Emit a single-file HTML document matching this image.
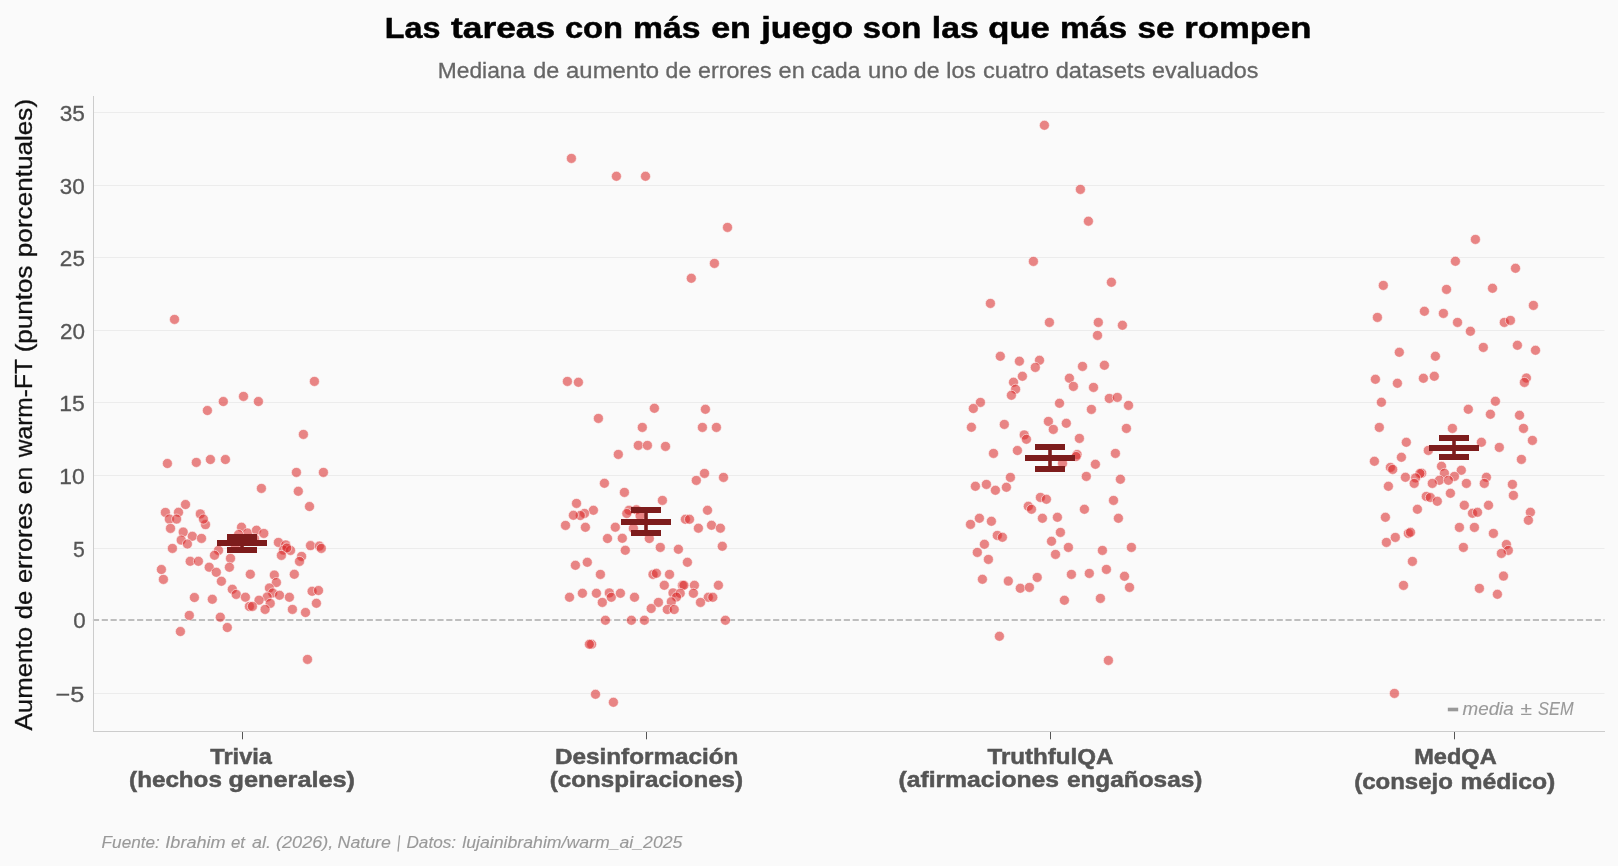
<!DOCTYPE html>
<html lang="es"><head><meta charset="utf-8"><title>Las tareas con más en juego son las que más se rompen</title>
<style>html,body{margin:0;padding:0;background:#fafafa;}body{width:1618px;height:866px;overflow:hidden;font-family:"Liberation Sans",sans-serif;}svg{display:block;}svg text{font-family:"Liberation Sans",sans-serif;}.d{fill:#da2828;fill-opacity:.56;stroke:#fff;stroke-opacity:.7;stroke-width:.8;}.g{stroke:#ececec;stroke-width:1;}.eb{stroke:#7d1c1c;fill:none;}</style></head><body>
<svg width="1618" height="866" viewBox="0 0 1618 866">
<rect width="1618" height="866" fill="#fafafa"/>
<line class="g" x1="94" x2="1604.5" y1="112.5" y2="112.5"/>
<line class="g" x1="94" x2="1604.5" y1="185.5" y2="185.5"/>
<line class="g" x1="94" x2="1604.5" y1="257.5" y2="257.5"/>
<line class="g" x1="94" x2="1604.5" y1="330.5" y2="330.5"/>
<line class="g" x1="94" x2="1604.5" y1="402.5" y2="402.5"/>
<line class="g" x1="94" x2="1604.5" y1="475.5" y2="475.5"/>
<line class="g" x1="94" x2="1604.5" y1="548.5" y2="548.5"/>
<line class="g" x1="94" x2="1604.5" y1="693.5" y2="693.5"/>
<line x1="92.9" x2="1604.5" y1="620" y2="620" stroke="#aaa" stroke-width="1.67" stroke-dasharray="6.167 2.667"/>
<g>
<circle class="d" cx="174.5" cy="319.4" r="5.0"/><circle class="d" cx="314.4" cy="381.4" r="5.0"/><circle class="d" cx="243.5" cy="396.4" r="5.0"/><circle class="d" cx="223.3" cy="401.5" r="5.0"/><circle class="d" cx="258.4" cy="401.5" r="5.0"/><circle class="d" cx="207.4" cy="410.5" r="5.0"/><circle class="d" cx="303.4" cy="434.4" r="5.0"/><circle class="d" cx="167.4" cy="463.5" r="5.0"/><circle class="d" cx="196.3" cy="462.4" r="5.0"/><circle class="d" cx="210.4" cy="459.5" r="5.0"/><circle class="d" cx="225.4" cy="459.5" r="5.0"/><circle class="d" cx="296.4" cy="472.4" r="5.0"/><circle class="d" cx="323.4" cy="472.4" r="5.0"/><circle class="d" cx="261.4" cy="488.4" r="5.0"/><circle class="d" cx="298.3" cy="491.3" r="5.0"/><circle class="d" cx="309.5" cy="506.5" r="5.0"/><circle class="d" cx="185.5" cy="504.5" r="5.0"/><circle class="d" cx="165.4" cy="512.4" r="5.0"/><circle class="d" cx="178.5" cy="512.3" r="5.0"/><circle class="d" cx="169.3" cy="519.1" r="5.0"/><circle class="d" cx="176.6" cy="519.1" r="5.0"/><circle class="d" cx="200.3" cy="513.9" r="5.0"/><circle class="d" cx="205.5" cy="524.6" r="5.0"/><circle class="d" cx="203.4" cy="519.1" r="5.0"/><circle class="d" cx="170.5" cy="528.4" r="5.0"/><circle class="d" cx="183.2" cy="532.1" r="5.0"/><circle class="d" cx="192.3" cy="536.3" r="5.0"/><circle class="d" cx="201.5" cy="538.4" r="5.0"/><circle class="d" cx="181.2" cy="540.1" r="5.0"/><circle class="d" cx="187.4" cy="544.0" r="5.0"/><circle class="d" cx="172.4" cy="548.4" r="5.0"/><circle class="d" cx="241.5" cy="527.2" r="5.0"/><circle class="d" cx="247.5" cy="533.0" r="5.0"/><circle class="d" cx="256.5" cy="530.2" r="5.0"/><circle class="d" cx="263.8" cy="533.4" r="5.0"/><circle class="d" cx="238.6" cy="534.5" r="5.0"/><circle class="d" cx="254.5" cy="538.6" r="5.0"/><circle class="d" cx="235.2" cy="545.6" r="5.0"/><circle class="d" cx="278.4" cy="542.4" r="5.0"/><circle class="d" cx="285.7" cy="544.9" r="5.0"/><circle class="d" cx="283.4" cy="550.1" r="5.0"/><circle class="d" cx="290.5" cy="550.4" r="5.0"/><circle class="d" cx="286.8" cy="548.0" r="5.0"/><circle class="d" cx="281.4" cy="555.4" r="5.0"/><circle class="d" cx="301.6" cy="556.4" r="5.0"/><circle class="d" cx="299.5" cy="561.4" r="5.0"/><circle class="d" cx="310.5" cy="545.6" r="5.0"/><circle class="d" cx="319.4" cy="546.1" r="5.0"/><circle class="d" cx="321.3" cy="548.4" r="5.0"/><circle class="d" cx="218.5" cy="550.4" r="5.0"/><circle class="d" cx="214.5" cy="555.3" r="5.0"/><circle class="d" cx="230.5" cy="558.4" r="5.0"/><circle class="d" cx="229.4" cy="567.3" r="5.0"/><circle class="d" cx="190.2" cy="561.3" r="5.0"/><circle class="d" cx="198.4" cy="561.3" r="5.0"/><circle class="d" cx="209.2" cy="567.2" r="5.0"/><circle class="d" cx="216.3" cy="572.3" r="5.0"/><circle class="d" cx="161.4" cy="569.5" r="5.0"/><circle class="d" cx="163.4" cy="579.4" r="5.0"/><circle class="d" cx="250.3" cy="574.3" r="5.0"/><circle class="d" cx="274.3" cy="575.1" r="5.0"/><circle class="d" cx="294.3" cy="574.3" r="5.0"/><circle class="d" cx="221.4" cy="581.3" r="5.0"/><circle class="d" cx="276.4" cy="582.5" r="5.0"/><circle class="d" cx="232.3" cy="589.3" r="5.0"/><circle class="d" cx="269.4" cy="588.0" r="5.0"/><circle class="d" cx="236.2" cy="594.4" r="5.0"/><circle class="d" cx="272.7" cy="593.0" r="5.0"/><circle class="d" cx="245.4" cy="597.2" r="5.0"/><circle class="d" cx="279.5" cy="595.3" r="5.0"/><circle class="d" cx="267.2" cy="597.0" r="5.0"/><circle class="d" cx="289.4" cy="597.3" r="5.0"/><circle class="d" cx="259.0" cy="600.2" r="5.0"/><circle class="d" cx="270.2" cy="603.4" r="5.0"/><circle class="d" cx="312.1" cy="591.3" r="5.0"/><circle class="d" cx="318.5" cy="590.5" r="5.0"/><circle class="d" cx="316.4" cy="603.3" r="5.0"/><circle class="d" cx="194.4" cy="597.5" r="5.0"/><circle class="d" cx="212.3" cy="599.3" r="5.0"/><circle class="d" cx="249.4" cy="606.4" r="5.0"/><circle class="d" cx="252.4" cy="606.4" r="5.0"/><circle class="d" cx="265.1" cy="609.4" r="5.0"/><circle class="d" cx="292.4" cy="609.4" r="5.0"/><circle class="d" cx="305.5" cy="612.5" r="5.0"/><circle class="d" cx="189.3" cy="615.4" r="5.0"/><circle class="d" cx="220.3" cy="617.2" r="5.0"/><circle class="d" cx="227.3" cy="627.5" r="5.0"/><circle class="d" cx="180.4" cy="631.5" r="5.0"/><circle class="d" cx="307.5" cy="659.4" r="5.0"/>
</g>
<g>
<circle class="d" cx="571.4" cy="158.4" r="5.0"/><circle class="d" cx="616.4" cy="176.3" r="5.0"/><circle class="d" cx="645.5" cy="176.3" r="5.0"/><circle class="d" cx="727.5" cy="227.4" r="5.0"/><circle class="d" cx="714.4" cy="263.4" r="5.0"/><circle class="d" cx="691.3" cy="278.3" r="5.0"/><circle class="d" cx="567.4" cy="381.4" r="5.0"/><circle class="d" cx="578.4" cy="382.3" r="5.0"/><circle class="d" cx="654.4" cy="408.3" r="5.0"/><circle class="d" cx="705.4" cy="409.3" r="5.0"/><circle class="d" cx="598.4" cy="418.4" r="5.0"/><circle class="d" cx="642.3" cy="427.4" r="5.0"/><circle class="d" cx="702.4" cy="427.4" r="5.0"/><circle class="d" cx="716.4" cy="427.4" r="5.0"/><circle class="d" cx="638.3" cy="445.4" r="5.0"/><circle class="d" cx="647.4" cy="445.4" r="5.0"/><circle class="d" cx="665.5" cy="446.4" r="5.0"/><circle class="d" cx="618.3" cy="454.4" r="5.0"/><circle class="d" cx="704.5" cy="473.4" r="5.0"/><circle class="d" cx="696.3" cy="480.4" r="5.0"/><circle class="d" cx="723.5" cy="477.4" r="5.0"/><circle class="d" cx="604.4" cy="483.3" r="5.0"/><circle class="d" cx="624.4" cy="492.4" r="5.0"/><circle class="d" cx="662.4" cy="500.4" r="5.0"/><circle class="d" cx="576.5" cy="503.4" r="5.0"/><circle class="d" cx="593.4" cy="510.3" r="5.0"/><circle class="d" cx="584.5" cy="513.4" r="5.0"/><circle class="d" cx="580.3" cy="515.5" r="5.0"/><circle class="d" cx="573.4" cy="515.3" r="5.0"/><circle class="d" cx="707.5" cy="510.3" r="5.0"/><circle class="d" cx="629.0" cy="510.3" r="5.0"/><circle class="d" cx="626.8" cy="513.5" r="5.0"/><circle class="d" cx="636.4" cy="509.8" r="5.0"/><circle class="d" cx="640.1" cy="515.8" r="5.0"/><circle class="d" cx="565.5" cy="525.4" r="5.0"/><circle class="d" cx="585.4" cy="527.3" r="5.0"/><circle class="d" cx="615.3" cy="527.2" r="5.0"/><circle class="d" cx="633.4" cy="528.4" r="5.0"/><circle class="d" cx="685.4" cy="519.3" r="5.0"/><circle class="d" cx="689.5" cy="519.3" r="5.0"/><circle class="d" cx="698.4" cy="528.2" r="5.0"/><circle class="d" cx="711.5" cy="525.3" r="5.0"/><circle class="d" cx="720.4" cy="528.2" r="5.0"/><circle class="d" cx="607.5" cy="538.5" r="5.0"/><circle class="d" cx="622.3" cy="538.3" r="5.0"/><circle class="d" cx="649.3" cy="538.5" r="5.0"/><circle class="d" cx="660.3" cy="547.4" r="5.0"/><circle class="d" cx="678.4" cy="549.3" r="5.0"/><circle class="d" cx="722.3" cy="546.3" r="5.0"/><circle class="d" cx="625.3" cy="550.3" r="5.0"/><circle class="d" cx="687.4" cy="562.3" r="5.0"/><circle class="d" cx="587.3" cy="562.3" r="5.0"/><circle class="d" cx="575.4" cy="565.3" r="5.0"/><circle class="d" cx="600.4" cy="574.4" r="5.0"/><circle class="d" cx="653.0" cy="574.4" r="5.0"/><circle class="d" cx="656.4" cy="573.3" r="5.0"/><circle class="d" cx="669.5" cy="574.4" r="5.0"/><circle class="d" cx="664.3" cy="585.3" r="5.0"/><circle class="d" cx="682.4" cy="585.3" r="5.0"/><circle class="d" cx="683.9" cy="585.3" r="5.0"/><circle class="d" cx="694.4" cy="585.3" r="5.0"/><circle class="d" cx="718.4" cy="585.3" r="5.0"/><circle class="d" cx="569.5" cy="597.3" r="5.0"/><circle class="d" cx="582.4" cy="593.3" r="5.0"/><circle class="d" cx="596.4" cy="593.3" r="5.0"/><circle class="d" cx="609.3" cy="592.9" r="5.0"/><circle class="d" cx="611.3" cy="597.3" r="5.0"/><circle class="d" cx="620.4" cy="593.3" r="5.0"/><circle class="d" cx="634.5" cy="597.3" r="5.0"/><circle class="d" cx="602.3" cy="602.4" r="5.0"/><circle class="d" cx="673.0" cy="592.9" r="5.0"/><circle class="d" cx="680.2" cy="593.3" r="5.0"/><circle class="d" cx="676.5" cy="597.0" r="5.0"/><circle class="d" cx="693.4" cy="593.3" r="5.0"/><circle class="d" cx="708.3" cy="597.3" r="5.0"/><circle class="d" cx="712.8" cy="597.3" r="5.0"/><circle class="d" cx="700.5" cy="602.4" r="5.0"/><circle class="d" cx="671.3" cy="601.8" r="5.0"/><circle class="d" cx="658.4" cy="602.4" r="5.0"/><circle class="d" cx="651.2" cy="608.5" r="5.0"/><circle class="d" cx="667.3" cy="609.5" r="5.0"/><circle class="d" cx="674.2" cy="609.5" r="5.0"/><circle class="d" cx="605.4" cy="620.3" r="5.0"/><circle class="d" cx="631.4" cy="620.3" r="5.0"/><circle class="d" cx="644.4" cy="620.3" r="5.0"/><circle class="d" cx="725.4" cy="620.3" r="5.0"/><circle class="d" cx="591.6" cy="644.3" r="5.0"/><circle class="d" cx="589.4" cy="644.3" r="5.0"/><circle class="d" cx="595.5" cy="694.3" r="5.0"/><circle class="d" cx="613.4" cy="702.3" r="5.0"/>
</g>
<g>
<circle class="d" cx="1044.4" cy="125.3" r="5.0"/><circle class="d" cx="1080.4" cy="189.4" r="5.0"/><circle class="d" cx="1088.4" cy="221.2" r="5.0"/><circle class="d" cx="1033.4" cy="261.4" r="5.0"/><circle class="d" cx="1111.4" cy="282.3" r="5.0"/><circle class="d" cx="990.4" cy="303.4" r="5.0"/><circle class="d" cx="1049.4" cy="322.4" r="5.0"/><circle class="d" cx="1098.3" cy="322.4" r="5.0"/><circle class="d" cx="1122.4" cy="325.3" r="5.0"/><circle class="d" cx="1097.5" cy="335.4" r="5.0"/><circle class="d" cx="1000.3" cy="356.3" r="5.0"/><circle class="d" cx="1019.4" cy="361.2" r="5.0"/><circle class="d" cx="1039.5" cy="360.3" r="5.0"/><circle class="d" cx="1035.3" cy="367.4" r="5.0"/><circle class="d" cx="1082.5" cy="366.4" r="5.0"/><circle class="d" cx="1104.4" cy="365.3" r="5.0"/><circle class="d" cx="1022.4" cy="376.3" r="5.0"/><circle class="d" cx="1013.5" cy="382.2" r="5.0"/><circle class="d" cx="1015.6" cy="389.2" r="5.0"/><circle class="d" cx="1011.4" cy="395.3" r="5.0"/><circle class="d" cx="1069.4" cy="378.2" r="5.0"/><circle class="d" cx="1073.4" cy="386.4" r="5.0"/><circle class="d" cx="1093.5" cy="387.4" r="5.0"/><circle class="d" cx="1109.3" cy="398.4" r="5.0"/><circle class="d" cx="1117.3" cy="397.4" r="5.0"/><circle class="d" cx="1128.5" cy="405.4" r="5.0"/><circle class="d" cx="980.4" cy="402.4" r="5.0"/><circle class="d" cx="973.3" cy="408.5" r="5.0"/><circle class="d" cx="1059.5" cy="403.3" r="5.0"/><circle class="d" cx="1091.4" cy="409.4" r="5.0"/><circle class="d" cx="971.4" cy="427.3" r="5.0"/><circle class="d" cx="1004.3" cy="424.4" r="5.0"/><circle class="d" cx="1048.4" cy="421.4" r="5.0"/><circle class="d" cx="1053.3" cy="429.4" r="5.0"/><circle class="d" cx="1066.3" cy="423.3" r="5.0"/><circle class="d" cx="1126.4" cy="428.4" r="5.0"/><circle class="d" cx="1024.2" cy="434.9" r="5.0"/><circle class="d" cx="1026.4" cy="439.3" r="5.0"/><circle class="d" cx="1079.4" cy="438.4" r="5.0"/><circle class="d" cx="993.5" cy="453.4" r="5.0"/><circle class="d" cx="1017.4" cy="450.5" r="5.0"/><circle class="d" cx="1077.1" cy="454.5" r="5.0"/><circle class="d" cx="1076.1" cy="456.5" r="5.0"/><circle class="d" cx="1115.4" cy="453.4" r="5.0"/><circle class="d" cx="1095.4" cy="464.3" r="5.0"/><circle class="d" cx="1062.5" cy="463.4" r="5.0"/><circle class="d" cx="1010.4" cy="477.4" r="5.0"/><circle class="d" cx="1086.3" cy="476.4" r="5.0"/><circle class="d" cx="1120.4" cy="479.3" r="5.0"/><circle class="d" cx="975.4" cy="486.3" r="5.0"/><circle class="d" cx="986.4" cy="484.4" r="5.0"/><circle class="d" cx="995.4" cy="490.3" r="5.0"/><circle class="d" cx="1006.4" cy="487.3" r="5.0"/><circle class="d" cx="1040.4" cy="497.4" r="5.0"/><circle class="d" cx="1046.4" cy="499.3" r="5.0"/><circle class="d" cx="1028.3" cy="506.3" r="5.0"/><circle class="d" cx="1031.5" cy="509.3" r="5.0"/><circle class="d" cx="1113.5" cy="500.4" r="5.0"/><circle class="d" cx="1084.4" cy="509.3" r="5.0"/><circle class="d" cx="979.4" cy="518.3" r="5.0"/><circle class="d" cx="991.4" cy="521.3" r="5.0"/><circle class="d" cx="970.5" cy="524.4" r="5.0"/><circle class="d" cx="1042.4" cy="518.3" r="5.0"/><circle class="d" cx="1057.4" cy="517.3" r="5.0"/><circle class="d" cx="1118.4" cy="518.3" r="5.0"/><circle class="d" cx="997.3" cy="535.4" r="5.0"/><circle class="d" cx="1002.4" cy="537.3" r="5.0"/><circle class="d" cx="1060.4" cy="532.4" r="5.0"/><circle class="d" cx="1051.5" cy="541.3" r="5.0"/><circle class="d" cx="984.4" cy="544.3" r="5.0"/><circle class="d" cx="1068.4" cy="547.4" r="5.0"/><circle class="d" cx="1131.4" cy="547.4" r="5.0"/><circle class="d" cx="1102.4" cy="550.4" r="5.0"/><circle class="d" cx="977.3" cy="552.4" r="5.0"/><circle class="d" cx="1055.5" cy="554.4" r="5.0"/><circle class="d" cx="988.4" cy="559.4" r="5.0"/><circle class="d" cx="1106.4" cy="569.4" r="5.0"/><circle class="d" cx="1071.4" cy="574.4" r="5.0"/><circle class="d" cx="1089.3" cy="573.4" r="5.0"/><circle class="d" cx="1124.5" cy="576.3" r="5.0"/><circle class="d" cx="1037.2" cy="577.4" r="5.0"/><circle class="d" cx="982.4" cy="579.3" r="5.0"/><circle class="d" cx="1008.3" cy="581.1" r="5.0"/><circle class="d" cx="1020.3" cy="588.3" r="5.0"/><circle class="d" cx="1029.4" cy="587.4" r="5.0"/><circle class="d" cx="1129.5" cy="587.4" r="5.0"/><circle class="d" cx="1064.4" cy="600.3" r="5.0"/><circle class="d" cx="1100.4" cy="598.4" r="5.0"/><circle class="d" cx="999.4" cy="636.3" r="5.0"/><circle class="d" cx="1108.4" cy="660.4" r="5.0"/>
</g>
<g>
<circle class="d" cx="1475.4" cy="239.4" r="5.0"/><circle class="d" cx="1455.4" cy="261.3" r="5.0"/><circle class="d" cx="1515.5" cy="268.3" r="5.0"/><circle class="d" cx="1383.3" cy="285.4" r="5.0"/><circle class="d" cx="1446.5" cy="289.4" r="5.0"/><circle class="d" cx="1492.5" cy="288.3" r="5.0"/><circle class="d" cx="1533.4" cy="305.4" r="5.0"/><circle class="d" cx="1377.4" cy="317.4" r="5.0"/><circle class="d" cx="1424.4" cy="311.3" r="5.0"/><circle class="d" cx="1443.4" cy="313.4" r="5.0"/><circle class="d" cx="1457.5" cy="322.4" r="5.0"/><circle class="d" cx="1504.3" cy="322.4" r="5.0"/><circle class="d" cx="1510.4" cy="320.4" r="5.0"/><circle class="d" cx="1470.4" cy="331.3" r="5.0"/><circle class="d" cx="1483.3" cy="347.4" r="5.0"/><circle class="d" cx="1517.4" cy="345.3" r="5.0"/><circle class="d" cx="1535.5" cy="350.3" r="5.0"/><circle class="d" cx="1399.3" cy="352.3" r="5.0"/><circle class="d" cx="1435.4" cy="356.3" r="5.0"/><circle class="d" cx="1375.4" cy="379.3" r="5.0"/><circle class="d" cx="1397.4" cy="383.3" r="5.0"/><circle class="d" cx="1423.4" cy="378.3" r="5.0"/><circle class="d" cx="1434.3" cy="376.3" r="5.0"/><circle class="d" cx="1526.4" cy="378.0" r="5.0"/><circle class="d" cx="1524.4" cy="382.4" r="5.0"/><circle class="d" cx="1381.4" cy="402.3" r="5.0"/><circle class="d" cx="1495.4" cy="401.3" r="5.0"/><circle class="d" cx="1468.3" cy="409.3" r="5.0"/><circle class="d" cx="1490.4" cy="414.3" r="5.0"/><circle class="d" cx="1519.5" cy="415.3" r="5.0"/><circle class="d" cx="1379.3" cy="427.4" r="5.0"/><circle class="d" cx="1452.4" cy="428.4" r="5.0"/><circle class="d" cx="1523.5" cy="428.4" r="5.0"/><circle class="d" cx="1406.3" cy="442.3" r="5.0"/><circle class="d" cx="1481.4" cy="442.3" r="5.0"/><circle class="d" cx="1532.4" cy="440.4" r="5.0"/><circle class="d" cx="1499.3" cy="447.4" r="5.0"/><circle class="d" cx="1428.3" cy="450.4" r="5.0"/><circle class="d" cx="1401.4" cy="457.3" r="5.0"/><circle class="d" cx="1374.4" cy="461.3" r="5.0"/><circle class="d" cx="1521.4" cy="459.4" r="5.0"/><circle class="d" cx="1390.4" cy="467.4" r="5.0"/><circle class="d" cx="1392.7" cy="469.4" r="5.0"/><circle class="d" cx="1441.5" cy="466.3" r="5.0"/><circle class="d" cx="1461.3" cy="470.3" r="5.0"/><circle class="d" cx="1421.7" cy="473.2" r="5.0"/><circle class="d" cx="1419.9" cy="473.5" r="5.0"/><circle class="d" cx="1444.4" cy="473.3" r="5.0"/><circle class="d" cx="1415.6" cy="477.9" r="5.0"/><circle class="d" cx="1414.2" cy="483.4" r="5.0"/><circle class="d" cx="1405.4" cy="477.3" r="5.0"/><circle class="d" cx="1454.4" cy="476.4" r="5.0"/><circle class="d" cx="1486.4" cy="477.3" r="5.0"/><circle class="d" cx="1439.4" cy="480.3" r="5.0"/><circle class="d" cx="1448.4" cy="480.3" r="5.0"/><circle class="d" cx="1432.3" cy="483.4" r="5.0"/><circle class="d" cx="1466.4" cy="483.4" r="5.0"/><circle class="d" cx="1484.3" cy="483.4" r="5.0"/><circle class="d" cx="1512.4" cy="484.4" r="5.0"/><circle class="d" cx="1388.4" cy="486.3" r="5.0"/><circle class="d" cx="1450.4" cy="493.3" r="5.0"/><circle class="d" cx="1513.4" cy="495.4" r="5.0"/><circle class="d" cx="1426.3" cy="496.4" r="5.0"/><circle class="d" cx="1430.3" cy="497.5" r="5.0"/><circle class="d" cx="1437.3" cy="501.3" r="5.0"/><circle class="d" cx="1464.3" cy="505.3" r="5.0"/><circle class="d" cx="1488.5" cy="505.3" r="5.0"/><circle class="d" cx="1417.4" cy="509.3" r="5.0"/><circle class="d" cx="1472.5" cy="513.3" r="5.0"/><circle class="d" cx="1477.5" cy="512.3" r="5.0"/><circle class="d" cx="1530.4" cy="512.3" r="5.0"/><circle class="d" cx="1385.4" cy="517.3" r="5.0"/><circle class="d" cx="1528.4" cy="520.3" r="5.0"/><circle class="d" cx="1459.4" cy="527.4" r="5.0"/><circle class="d" cx="1474.4" cy="527.4" r="5.0"/><circle class="d" cx="1493.4" cy="533.4" r="5.0"/><circle class="d" cx="1408.4" cy="533.4" r="5.0"/><circle class="d" cx="1410.5" cy="532.3" r="5.0"/><circle class="d" cx="1395.3" cy="537.4" r="5.0"/><circle class="d" cx="1386.4" cy="542.4" r="5.0"/><circle class="d" cx="1463.4" cy="547.4" r="5.0"/><circle class="d" cx="1506.4" cy="544.5" r="5.0"/><circle class="d" cx="1508.3" cy="550.4" r="5.0"/><circle class="d" cx="1501.4" cy="553.4" r="5.0"/><circle class="d" cx="1412.4" cy="561.4" r="5.0"/><circle class="d" cx="1503.5" cy="576.1" r="5.0"/><circle class="d" cx="1403.5" cy="585.4" r="5.0"/><circle class="d" cx="1479.4" cy="588.4" r="5.0"/><circle class="d" cx="1497.4" cy="594.3" r="5.0"/><circle class="d" cx="1394.4" cy="693.4" r="5.0"/>
</g>
<g class="eb"><line x1="242.0" x2="242.0" y1="537.0" y2="550.0" stroke-width="3.6"/>
<line x1="227.0" x2="257.0" y1="537.0" y2="537.0" stroke-width="6"/>
<line x1="227.0" x2="257.0" y1="550.0" y2="550.0" stroke-width="6"/>
<line x1="217.0" x2="267.0" y1="543.0" y2="543.0" stroke-width="6"/></g>
<g class="eb"><line x1="646.0" x2="646.0" y1="510.0" y2="533.0" stroke-width="3.6"/>
<line x1="631.0" x2="661.0" y1="510.0" y2="510.0" stroke-width="6"/>
<line x1="631.0" x2="661.0" y1="533.0" y2="533.0" stroke-width="6"/>
<line x1="621.0" x2="671.0" y1="521.9" y2="521.9" stroke-width="6"/></g>
<g class="eb"><line x1="1050.0" x2="1050.0" y1="447.0" y2="469.0" stroke-width="3.6"/>
<line x1="1035.0" x2="1065.0" y1="447.0" y2="447.0" stroke-width="6"/>
<line x1="1035.0" x2="1065.0" y1="469.0" y2="469.0" stroke-width="6"/>
<line x1="1025.0" x2="1075.0" y1="458.1" y2="458.1" stroke-width="6"/></g>
<g class="eb"><line x1="1454.0" x2="1454.0" y1="438.0" y2="457.0" stroke-width="3.6"/>
<line x1="1439.0" x2="1469.0" y1="438.0" y2="438.0" stroke-width="6"/>
<line x1="1439.0" x2="1469.0" y1="457.0" y2="457.0" stroke-width="6"/>
<line x1="1429.0" x2="1479.0" y1="448.0" y2="448.0" stroke-width="6"/></g>
<line x1="93.5" x2="93.5" y1="96" y2="732" stroke="#ccc" stroke-width="1"/>
<line x1="93" x2="1605" y1="731.5" y2="731.5" stroke="#ccc" stroke-width="1"/>
<line x1="242.5" x2="242.5" y1="732" y2="739.3" stroke="#555" stroke-width="1"/>
<line x1="646.5" x2="646.5" y1="732" y2="739.3" stroke="#555" stroke-width="1"/>
<line x1="1050.5" x2="1050.5" y1="732" y2="739.3" stroke="#555" stroke-width="1"/>
<line x1="1454.5" x2="1454.5" y1="732" y2="739.3" stroke="#555" stroke-width="1"/>
<line x1="399.6" y1="835.4" x2="398.0" y2="851.6" stroke="#999" stroke-width="1.25"/>
<rect x="1447.8" y="707.7" width="10.4" height="3.6" fill="#999"/>
<g opacity="0.999">
<text id="x1a" x="210.34" y="763.80" textLength="61.65" lengthAdjust="spacingAndGlyphs" font-size="22.10" font-weight="bold" font-style="normal" fill="#555" stroke="#555" stroke-width="0.50">Trivia</text>
<text id="x1b" x="129.12" y="787.20" textLength="92.73" lengthAdjust="spacingAndGlyphs" font-size="22.10" font-weight="bold" font-style="normal" fill="#555" stroke="#555" stroke-width="0.50">(hechos</text>
<text id="x1c" x="228.59" y="787.20" textLength="126.44" lengthAdjust="spacingAndGlyphs" font-size="22.10" font-weight="bold" font-style="normal" fill="#555" stroke="#555" stroke-width="0.50">generales)</text>
<text id="x2a" x="555.04" y="763.80" textLength="183.40" lengthAdjust="spacingAndGlyphs" font-size="22.10" font-weight="bold" font-style="normal" fill="#555" stroke="#555" stroke-width="0.50">Desinformación</text>
<text id="x2b" x="549.68" y="787.20" textLength="193.42" lengthAdjust="spacingAndGlyphs" font-size="22.10" font-weight="bold" font-style="normal" fill="#555" stroke="#555" stroke-width="0.50">(conspiraciones)</text>
<text id="x3a" x="987.48" y="763.80" textLength="126.08" lengthAdjust="spacingAndGlyphs" font-size="22.10" font-weight="bold" font-style="normal" fill="#555" stroke="#555" stroke-width="0.50">TruthfulQA</text>
<text id="x3b" x="898.44" y="787.20" textLength="160.67" lengthAdjust="spacingAndGlyphs" font-size="22.10" font-weight="bold" font-style="normal" fill="#555" stroke="#555" stroke-width="0.50">(afirmaciones</text>
<text id="x3c" x="1066.91" y="787.20" textLength="135.46" lengthAdjust="spacingAndGlyphs" font-size="22.10" font-weight="bold" font-style="normal" fill="#555" stroke="#555" stroke-width="0.50">engañosas)</text>
<text id="x4a" x="1414.16" y="763.80" textLength="82.49" lengthAdjust="spacingAndGlyphs" font-size="22.10" font-weight="bold" font-style="normal" fill="#555" stroke="#555" stroke-width="0.50">MedQA</text>
<text id="x4b" x="1354.17" y="789.20" textLength="98.70" lengthAdjust="spacingAndGlyphs" font-size="22.10" font-weight="bold" font-style="normal" fill="#555" stroke="#555" stroke-width="0.50">(consejo</text>
<text id="x4c" x="1460.53" y="789.20" textLength="94.80" lengthAdjust="spacingAndGlyphs" font-size="22.10" font-weight="bold" font-style="normal" fill="#555" stroke="#555" stroke-width="0.50">médico)</text>
<text id="leg" x="1462.52" y="714.70" textLength="51.25" lengthAdjust="spacingAndGlyphs" font-size="17.70" font-weight="normal" font-style="italic" fill="#999" stroke="#999" stroke-width="0.12">media</text>
<text id="leg2" x="1520.58" y="714.70" textLength="11.42" lengthAdjust="spacingAndGlyphs" font-size="17.70" font-weight="normal" font-style="italic" fill="#999" stroke="#999" stroke-width="0.12">±</text>
<text id="leg3" x="1538.11" y="714.70" textLength="35.39" lengthAdjust="spacingAndGlyphs" font-size="17.70" font-weight="normal" font-style="italic" fill="#999" stroke="#999" stroke-width="0.12">SEM</text>
<text id="ti0" x="384.74" y="38.00" textLength="55.63" lengthAdjust="spacingAndGlyphs" font-size="29.30" font-weight="bold" font-style="normal" fill="#000" stroke="#000" stroke-width="0.50">Las</text>
<text id="ti1" x="451.10" y="38.00" textLength="104.00" lengthAdjust="spacingAndGlyphs" font-size="29.30" font-weight="bold" font-style="normal" fill="#000" stroke="#000" stroke-width="0.50">tareas</text>
<text id="ti2" x="564.90" y="38.00" textLength="58.17" lengthAdjust="spacingAndGlyphs" font-size="29.30" font-weight="bold" font-style="normal" fill="#000" stroke="#000" stroke-width="0.50">con</text>
<text id="ti3" x="633.14" y="38.00" textLength="67.39" lengthAdjust="spacingAndGlyphs" font-size="29.30" font-weight="bold" font-style="normal" fill="#000" stroke="#000" stroke-width="0.50">más</text>
<text id="ti4" x="711.15" y="38.00" textLength="39.84" lengthAdjust="spacingAndGlyphs" font-size="29.30" font-weight="bold" font-style="normal" fill="#000" stroke="#000" stroke-width="0.50">en</text>
<text id="ti5" x="761.15" y="38.00" textLength="92.07" lengthAdjust="spacingAndGlyphs" font-size="29.30" font-weight="bold" font-style="normal" fill="#000" stroke="#000" stroke-width="0.50">juego</text>
<text id="ti6" x="862.80" y="38.00" textLength="58.47" lengthAdjust="spacingAndGlyphs" font-size="29.30" font-weight="bold" font-style="normal" fill="#000" stroke="#000" stroke-width="0.50">son</text>
<text id="ti7" x="931.82" y="38.00" textLength="46.79" lengthAdjust="spacingAndGlyphs" font-size="29.30" font-weight="bold" font-style="normal" fill="#000" stroke="#000" stroke-width="0.50">las</text>
<text id="ti8" x="988.24" y="38.00" textLength="61.59" lengthAdjust="spacingAndGlyphs" font-size="29.30" font-weight="bold" font-style="normal" fill="#000" stroke="#000" stroke-width="0.50">que</text>
<text id="ti9" x="1060.11" y="38.00" textLength="66.94" lengthAdjust="spacingAndGlyphs" font-size="29.30" font-weight="bold" font-style="normal" fill="#000" stroke="#000" stroke-width="0.50">más</text>
<text id="ti10" x="1137.57" y="38.00" textLength="37.05" lengthAdjust="spacingAndGlyphs" font-size="29.30" font-weight="bold" font-style="normal" fill="#000" stroke="#000" stroke-width="0.50">se</text>
<text id="ti11" x="1184.30" y="38.00" textLength="127.17" lengthAdjust="spacingAndGlyphs" font-size="29.30" font-weight="bold" font-style="normal" fill="#000" stroke="#000" stroke-width="0.50">rompen</text>
<text id="su0" x="437.81" y="77.90" textLength="87.35" lengthAdjust="spacingAndGlyphs" font-size="22.10" font-weight="normal" font-style="normal" fill="#666" stroke="#666" stroke-width="0.30">Mediana</text>
<text id="su1" x="533.27" y="77.90" textLength="26.00" lengthAdjust="spacingAndGlyphs" font-size="22.10" font-weight="normal" font-style="normal" fill="#666" stroke="#666" stroke-width="0.30">de</text>
<text id="su2" x="566.06" y="77.90" textLength="93.07" lengthAdjust="spacingAndGlyphs" font-size="22.10" font-weight="normal" font-style="normal" fill="#666" stroke="#666" stroke-width="0.30">aumento</text>
<text id="su3" x="665.58" y="77.90" textLength="25.62" lengthAdjust="spacingAndGlyphs" font-size="22.10" font-weight="normal" font-style="normal" fill="#666" stroke="#666" stroke-width="0.30">de</text>
<text id="su4" x="698.03" y="77.90" textLength="73.65" lengthAdjust="spacingAndGlyphs" font-size="22.10" font-weight="normal" font-style="normal" fill="#666" stroke="#666" stroke-width="0.30">errores</text>
<text id="su5" x="778.63" y="77.90" textLength="26.17" lengthAdjust="spacingAndGlyphs" font-size="22.10" font-weight="normal" font-style="normal" fill="#666" stroke="#666" stroke-width="0.30">en</text>
<text id="su6" x="811.10" y="77.90" textLength="49.34" lengthAdjust="spacingAndGlyphs" font-size="22.10" font-weight="normal" font-style="normal" fill="#666" stroke="#666" stroke-width="0.30">cada</text>
<text id="su7" x="867.94" y="77.90" textLength="39.73" lengthAdjust="spacingAndGlyphs" font-size="22.10" font-weight="normal" font-style="normal" fill="#666" stroke="#666" stroke-width="0.30">uno</text>
<text id="su8" x="913.87" y="77.90" textLength="25.63" lengthAdjust="spacingAndGlyphs" font-size="22.10" font-weight="normal" font-style="normal" fill="#666" stroke="#666" stroke-width="0.30">de</text>
<text id="su9" x="946.37" y="77.90" textLength="29.48" lengthAdjust="spacingAndGlyphs" font-size="22.10" font-weight="normal" font-style="normal" fill="#666" stroke="#666" stroke-width="0.30">los</text>
<text id="su10" x="982.92" y="77.90" textLength="66.06" lengthAdjust="spacingAndGlyphs" font-size="22.10" font-weight="normal" font-style="normal" fill="#666" stroke="#666" stroke-width="0.30">cuatro</text>
<text id="su11" x="1055.69" y="77.90" textLength="89.60" lengthAdjust="spacingAndGlyphs" font-size="22.10" font-weight="normal" font-style="normal" fill="#666" stroke="#666" stroke-width="0.30">datasets</text>
<text id="su12" x="1152.03" y="77.90" textLength="106.45" lengthAdjust="spacingAndGlyphs" font-size="22.10" font-weight="normal" font-style="normal" fill="#666" stroke="#666" stroke-width="0.30">evaluados</text>
<text id="fo0" x="101.61" y="848.10" textLength="58.29" lengthAdjust="spacingAndGlyphs" font-size="16.50" font-weight="normal" font-style="italic" fill="#999" stroke="#999" stroke-width="0.12">Fuente:</text>
<text id="fo1" x="165.35" y="848.10" textLength="60.34" lengthAdjust="spacingAndGlyphs" font-size="16.50" font-weight="normal" font-style="italic" fill="#999" stroke="#999" stroke-width="0.12">Ibrahim</text>
<text id="fo2" x="230.99" y="848.10" textLength="14.00" lengthAdjust="spacingAndGlyphs" font-size="16.50" font-weight="normal" font-style="italic" fill="#999" stroke="#999" stroke-width="0.12">et</text>
<text id="fo3" x="251.94" y="848.10" textLength="18.98" lengthAdjust="spacingAndGlyphs" font-size="16.50" font-weight="normal" font-style="italic" fill="#999" stroke="#999" stroke-width="0.12">al.</text>
<text id="fo4" x="275.91" y="848.10" textLength="57.49" lengthAdjust="spacingAndGlyphs" font-size="16.50" font-weight="normal" font-style="italic" fill="#999" stroke="#999" stroke-width="0.12">(2026),</text>
<text id="fo5" x="337.55" y="848.10" textLength="53.36" lengthAdjust="spacingAndGlyphs" font-size="16.50" font-weight="normal" font-style="italic" fill="#999" stroke="#999" stroke-width="0.12">Nature</text>
<text id="fo6" x="406.41" y="848.10" textLength="49.70" lengthAdjust="spacingAndGlyphs" font-size="16.50" font-weight="normal" font-style="italic" fill="#999" stroke="#999" stroke-width="0.12">Datos:</text>
<text id="fo7" x="462.31" y="848.10" textLength="220.16" lengthAdjust="spacingAndGlyphs" font-size="16.50" font-weight="normal" font-style="italic" fill="#999" stroke="#999" stroke-width="0.12">lujainibrahim/warm_ai_2025</text>
<text id="yt35" x="59.78" y="120.60" textLength="25.22" lengthAdjust="spacingAndGlyphs" font-size="22.10" font-weight="normal" font-style="normal" fill="#555" stroke="#555" stroke-width="0.30">35</text>
<text id="yt30" x="59.81" y="193.50" textLength="24.87" lengthAdjust="spacingAndGlyphs" font-size="22.10" font-weight="normal" font-style="normal" fill="#555" stroke="#555" stroke-width="0.30">30</text>
<text id="yt25" x="59.86" y="265.60" textLength="25.04" lengthAdjust="spacingAndGlyphs" font-size="22.10" font-weight="normal" font-style="normal" fill="#555" stroke="#555" stroke-width="0.30">25</text>
<text id="yt20" x="59.95" y="338.50" textLength="25.02" lengthAdjust="spacingAndGlyphs" font-size="22.10" font-weight="normal" font-style="normal" fill="#555" stroke="#555" stroke-width="0.30">20</text>
<text id="yt15" x="59.21" y="410.60" textLength="25.56" lengthAdjust="spacingAndGlyphs" font-size="22.10" font-weight="normal" font-style="normal" fill="#555" stroke="#555" stroke-width="0.30">15</text>
<text id="yt10" x="59.30" y="483.60" textLength="25.43" lengthAdjust="spacingAndGlyphs" font-size="22.10" font-weight="normal" font-style="normal" fill="#555" stroke="#555" stroke-width="0.30">10</text>
<text id="yt5" x="73.06" y="556.50" textLength="11.81" lengthAdjust="spacingAndGlyphs" font-size="22.10" font-weight="normal" font-style="normal" fill="#555" stroke="#555" stroke-width="0.30">5</text>
<text id="yt0" x="73.20" y="628.20" textLength="12.44" lengthAdjust="spacingAndGlyphs" font-size="22.10" font-weight="normal" font-style="normal" fill="#555" stroke="#555" stroke-width="0.30">0</text>
<text id="yt-5" x="55.43" y="701.60" textLength="28.76" lengthAdjust="spacingAndGlyphs" font-size="22.10" font-weight="normal" font-style="normal" fill="#555" stroke="#555" stroke-width="0.30">−5</text>
<text id="yl0" transform="translate(32.20,730.47) rotate(-90)" x="0" y="0" textLength="103.50" lengthAdjust="spacingAndGlyphs" font-size="24.3" fill="#111" stroke="#111" stroke-width="0.3">Aumento</text>
<text id="yl1" transform="translate(32.20,619.22) rotate(-90)" x="0" y="0" textLength="28.60" lengthAdjust="spacingAndGlyphs" font-size="24.3" fill="#111" stroke="#111" stroke-width="0.3">de</text>
<text id="yl2" transform="translate(32.20,583.03) rotate(-90)" x="0" y="0" textLength="80.31" lengthAdjust="spacingAndGlyphs" font-size="24.3" fill="#111" stroke="#111" stroke-width="0.3">errores</text>
<text id="yl3" transform="translate(32.20,494.15) rotate(-90)" x="0" y="0" textLength="27.43" lengthAdjust="spacingAndGlyphs" font-size="24.3" fill="#111" stroke="#111" stroke-width="0.3">en</text>
<text id="yl4" transform="translate(32.20,457.21) rotate(-90)" x="0" y="0" textLength="98.20" lengthAdjust="spacingAndGlyphs" font-size="24.3" fill="#111" stroke="#111" stroke-width="0.3">warm-FT</text>
<text id="yl5" transform="translate(32.20,352.35) rotate(-90)" x="0" y="0" textLength="86.90" lengthAdjust="spacingAndGlyphs" font-size="24.3" fill="#111" stroke="#111" stroke-width="0.3">(puntos</text>
<text id="yl6" transform="translate(32.20,257.19) rotate(-90)" x="0" y="0" textLength="158.33" lengthAdjust="spacingAndGlyphs" font-size="24.3" fill="#111" stroke="#111" stroke-width="0.3">porcentuales)</text>
</g>
</svg></body></html>
